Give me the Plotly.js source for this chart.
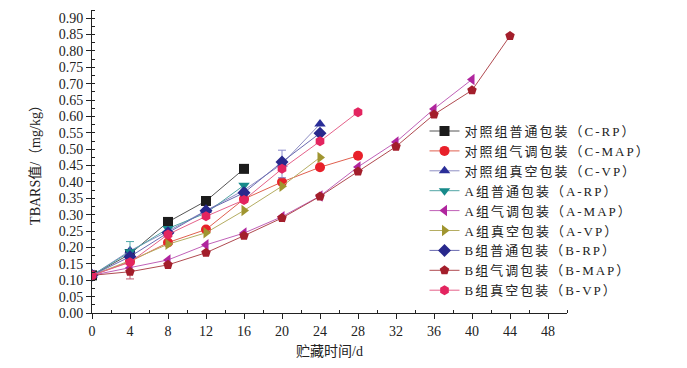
<!DOCTYPE html>
<html>
<head>
<meta charset="utf-8">
<script src="https://cdn.plot.ly/plotly-3.0.1.min.js"></script>
<style>html,body{margin:0;padding:0;background:#fff;}#chart{width:687px;height:368px;}
.legendtext{letter-spacing:2px;}
</style>
</head>
<body>
<div id="chart"></div>
<script>
var days = [0, 4, 8, 12, 16, 20, 24, 28, 32, 36, 40, 44];
var seriesNames = [
  "对照组普通包装（C-RP）",
  "对照组气调包装（C-MAP）",
  "对照组真空包装（C-VP）",
  "A组普通包装（A-RP）",
  "A组气调包装（A-MAP）",
  "A组真空包装（A-VP）",
  "B组普通包装（B-RP）",
  "B组气调包装（B-MAP）",
  "B组真空包装（B-VP）"
];
var cRP  = [0.115, 0.180, 0.278, 0.342, 0.440];
var cMAP = [0.115, 0.157, 0.215, 0.255, 0.348, 0.400, 0.445, 0.480];
var cVP  = [0.115, 0.190, 0.250, 0.313, 0.375, 0.455, 0.577];
var aRP  = [0.115, 0.187, 0.258, 0.305, 0.390];
var aMAP = [0.115, 0.138, 0.162, 0.208, 0.244, 0.294, 0.357, 0.446, 0.522, 0.623, 0.713];
var aVP  = [0.115, 0.160, 0.210, 0.245, 0.313, 0.387, 0.475];
var bRP  = [0.115, 0.172, 0.245, 0.312, 0.367, 0.461, 0.549];
var bMAP = [0.115, 0.126, 0.147, 0.184, 0.236, 0.290, 0.356, 0.432, 0.508, 0.606, 0.680, 0.846];
var bVP  = [0.115, 0.155, 0.240, 0.295, 0.345, 0.440, 0.524, 0.613];
// error bars (NaN = none)
var cVPerr  = [NaN, NaN, NaN, NaN, NaN, 0.042, NaN];
var aRPerr  = [NaN, 0.031, NaN, NaN, NaN];
var bMAPerr = [NaN, 0.022, NaN, NaN, NaN, NaN, NaN, NaN, NaN, NaN, NaN, NaN];

var values = [cRP, cMAP, cVP, aRP, aMAP, aVP, bRP, bMAP, bVP];
var errs = [null, null, cVPerr, aRPerr, null, null, null, bMAPerr, null];
var markerColors = ["#1c1c1c", "#e8202a", "#2a2e98", "#178a8a", "#b0259e", "#a09530", "#28288c", "#a31e2b", "#e3245f"];
var lineColors = ["#555555", "#e0604f", "#8f8fc4", "#52a5a5", "#c061b8", "#b5ad62", "#6a6ab0", "#b04a50", "#e5628a"];
var errColors = [null, null, "#8c8ccc", "#4fa8a8", null, null, null, "#c05a70", null];
var symbols = ["square", "circle", "triangle-up", "triangle-down", "triangle-left", "triangle-right", "diamond", "pentagon", "hexagon"];

var traces = values.map(function (v, i) {
  var t = {
    type: "scatter",
    mode: "lines+markers",
    name: seriesNames[i],
    x: days.slice(0, v.length),
    y: v,
    line: {color: lineColors[i], width: 1},
    marker: {symbol: symbols[i], color: markerColors[i], size: 10, line: {width: 0}}
  };
  if (errs[i]) {
    t.error_y = {type: "data", array: errs[i], visible: true, color: errColors[i], thickness: 1, width: 4};
  }
  return t;
});

var layout = {
  width: 687, height: 368,
  margin: {l: 92, r: 120, t: 10, b: 55},
  paper_bgcolor: "#ffffff",
  plot_bgcolor: "#ffffff",
  font: {family: "Liberation Serif, Noto Sans CJK SC, serif", color: "#222222", size: 14},
  showlegend: true,
  legend: {
    x: 0.70, y: 0.65, xanchor: "left", yanchor: "top",
    bgcolor: "rgba(255,255,255,0)",
    font: {family: "Liberation Serif, Noto Sans CJK SC, serif", size: 13, color: "#222222"},
    itemwidth: 30,
    tracegroupgap: 0
  },
  xaxis: {
    range: [0, 50],
    tickmode: "array",
    tickvals: [0, 4, 8, 12, 16, 20, 24, 28, 32, 36, 40, 44, 48],
    ticks: "outside", ticklen: 5, tickwidth: 1, tickcolor: "#222",
    minor: {tickmode: "array", tickvals: [2, 6, 10, 14, 18, 22, 26, 30, 34, 38, 42, 46, 50], ticks: "inside", ticklen: 3, tickcolor: "#222"},
    showline: true, linecolor: "#222", linewidth: 1,
    showgrid: false, zeroline: false,
    tickfont: {size: 14},
    title: {text: "贮藏时间/d", font: {size: 14}, standoff: 8}
  },
  yaxis: {
    range: [0, 0.925],
    tickmode: "linear", tick0: 0, dtick: 0.05,
    tickformat: ".2f",
    ticks: "outside", ticklen: 5, tickwidth: 1, tickcolor: "#222",
    minor: {dtick: 0.025, ticks: "inside", ticklen: 3, tickcolor: "#222"},
    showline: true, linecolor: "#222", linewidth: 1,
    showgrid: false, zeroline: false,
    tickfont: {size: 14},
    title: {text: "TBARS值/（mg/kg）", font: {size: 14}, standoff: 14}
  }
};

Plotly.newPlot("chart", traces, layout, {staticPlot: true, displayModeBar: false});
</script>
</body>
</html>
